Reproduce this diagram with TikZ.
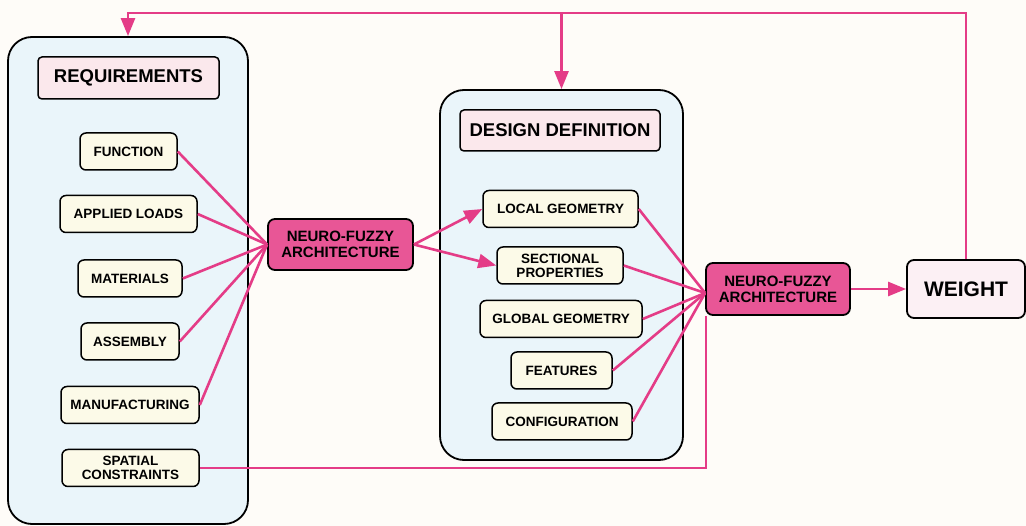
\documentclass[tikz,border=0pt]{standalone}
\usepackage{fontspec}
\setmainfont{Liberation Sans}
\usetikzlibrary{arrows.meta}

\definecolor{bgpaper}{RGB}{254,252,248}
\definecolor{linkpink}{RGB}{228,60,135}
\definecolor{nffill}{RGB}{232,86,150}
\definecolor{panelblue}{RGB}{234,245,250}
\definecolor{itemfill}{RGB}{252,250,232}
\definecolor{titlefill}{RGB}{251,232,236}
\definecolor{weightfill}{RGB}{252,240,244}

\tikzset{
    panel/.style = {draw, line width=1.8pt, rounded corners=24pt, fill=panelblue},
    titlebox/.style = {draw, line width=1.5pt, rounded corners=4pt, fill=titlefill, font=\bfseries\fontsize{18.5}{20}\selectfont},
    item/.style = {draw, line width=1.5pt, rounded corners=6pt, fill=itemfill, align=center, inner sep=0pt, minimum height=37pt, font=\bfseries\fontsize{13.5}{14}\selectfont},
    nfbox/.style = {draw, line width=1.8pt, rounded corners=7pt, fill=nffill, align=center, inner sep=0pt, minimum width=145pt, minimum height=51pt, font=\bfseries\fontsize{15}{16}\selectfont},
    link/.style = {linkpink, line width=2.6pt},
    arrow/.style = {link, -{Triangle[length=18pt,width=14pt]}}
}

\begin{document}
\begin{tikzpicture}[x=1pt, y=-1pt]
        \fill[bgpaper] (0,0) rectangle (1026,526);
        \useasboundingbox (0,0) rectangle (1026,526);

        % panels
        \node[panel, minimum width=240pt, minimum height=487pt] (req) at (128,280.5) {};
        \node[panel, minimum width=243pt, minimum height=370pt] (dd) at (561.5,275) {};
        \node[titlebox, minimum width=181pt, minimum height=42pt] (reqt) at (128.5,78) {REQUIREMENTS};
        \node[titlebox, minimum width=200pt, minimum height=41pt] (ddt) at (560,130.5) {DESIGN DEFINITION};

        \foreach \n/\x/\y/\w/\t in {fun/128.5/151.5/97/FUNCTION, loa/128.5/214/137/APPLIED LOADS,
            mat/130/278.5/104/MATERIALS, ass/130/341.5/98/ASSEMBLY,
            man/130/405/138/MANUFACTURING, spa/130.5/468/137/{SPATIAL\\CONSTRAINTS},
            loc/560.5/209/155/LOCAL GEOMETRY, sec/560/265.5/126/{SECTIONAL\\PROPERTIES},
            glo/561/319/162/GLOBAL GEOMETRY, fea/561.5/370.5/101/FEATURES,
            con/562/421.5/140/CONFIGURATION} {
            \node[item, minimum width=\w pt] (\n) at (\x,\y) {\t};
        }

        \node[nfbox] (nfa) at (340.5,244.5) {NEURO-FUZZY\\ARCHITECTURE};
        \node[nfbox, minimum width=144pt, minimum height=52pt] (nfb) at (778,289) {NEURO-FUZZY\\ARCHITECTURE};
        \node[draw, line width=1.8pt, rounded corners=7pt, fill=weightfill, minimum width=118pt, minimum height=58pt,
            font=\bfseries\fontsize{21}{22}\selectfont] (wt) at (966,289) {WEIGHT};

        \foreach \n in {fun, loa, mat, ass, man} {
            \draw[link] (\n.east) -- (nfa.west);
        }
        \foreach \n in {loc, sec, glo, fea, con} {
            \draw[link] (\n.east) -- ([yshift=-4pt]nfb.west);
        }
        \draw[arrow] (nfa.east) -- (loc.west);
        \draw[arrow] (nfa.east) -- (sec.west);
        \draw[arrow] (nfb.east) -- (wt.west);
        \draw[link] (spa.east) -| ([xshift=1pt]nfb.south west);

        % feedback from weight
        \coordinate (fb) at (128,13);
        \draw[arrow] (wt.north) |- (fb) -- (req.north);
        \draw[arrow] (dd.north |- fb) -- (dd.north);
    \end{tikzpicture}
\end{document}
